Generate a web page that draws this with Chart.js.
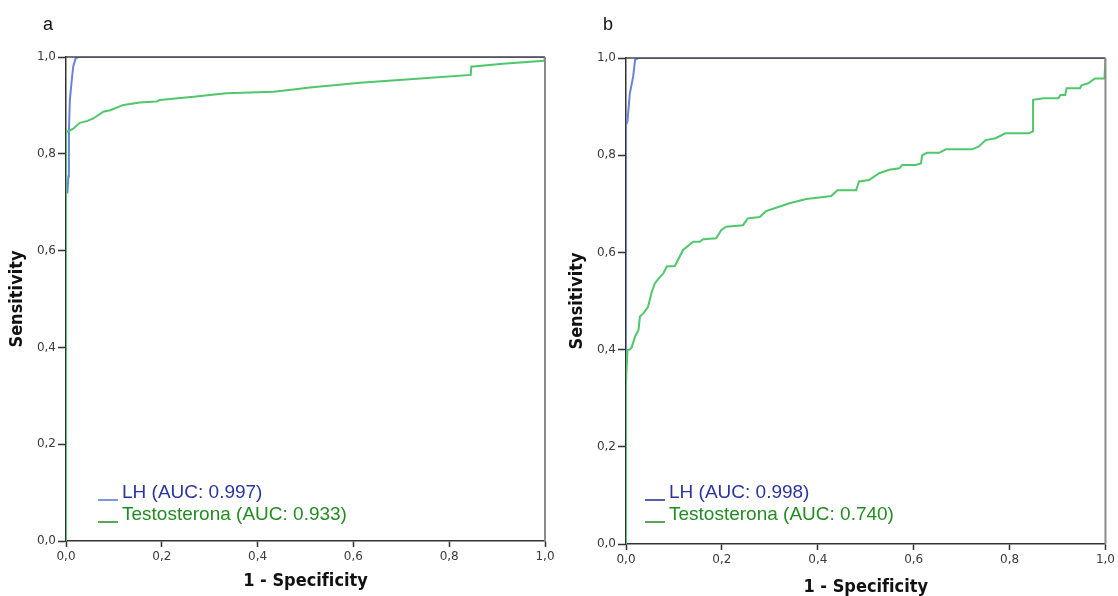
<!DOCTYPE html>
<html lang="es">
<head>
<meta charset="UTF-8">
<title>Curvas ROC</title>
<script src="https://cdn.jsdelivr.net/npm/chart.js@4.4.1/dist/chart.umd.min.js"></script>
<style>
    body { margin: 0; background: #fff; }
    #wrap { position: relative; width: 1118px; height: 596px; overflow: hidden; }
    #panelA { position: absolute; left: 0; top: 0; }
    #panelB { position: absolute; left: 560px; top: 0; }
</style>
</head>
<body>
<div id="wrap">
    <canvas id="panelA" width="560" height="596"></canvas>
    <canvas id="panelB" width="558" height="596"></canvas>
</div>
<script>
// Etiquetas de los ejes
const tickLabels = ['0,0', '0,2', '0,4', '0,6', '0,8', '1,0'];

// Panel a: LH
const lhA_fpr = [0, 0, 0.003, 0.005, 0.006, 0.008, 0.012, 0.015, 0.020, 0.026, 1];
const lhA_tpr = [0, 0.72, 0.72, 0.753, 0.843, 0.911, 0.952, 0.98, 0.997, 1, 1];

// Panel a: Testosterona
const testoA_fpr = [0, 0, 0.003, 0.015, 0.029, 0.045, 0.057, 0.078, 0.092, 0.12, 0.154, 0.189, 0.196,
    0.266, 0.335, 0.433, 0.475, 0.509, 0.614, 0.733, 0.845, 0.846, 0.912, 0.998, 1];
const testoA_tpr = [0, 0.844, 0.846, 0.852, 0.864, 0.868, 0.873, 0.887, 0.890, 0.901, 0.906, 0.908, 0.911,
    0.918, 0.925, 0.928, 0.933, 0.937, 0.947, 0.955, 0.963, 0.980, 0.986, 0.992, 1];

// Panel b: LH
const lhB_fpr = [0, 0, 0.003, 0.008, 0.015, 0.019, 0.026, 1];
const lhB_tpr = [0, 0.862, 0.87, 0.927, 0.962, 0.996, 1, 1];

// Panel b: Testosterona
const testoB_fpr = [0, 0, 0.003, 0.008, 0.012, 0.019, 0.026, 0.029, 0.036, 0.046, 0.053, 0.06, 0.067,
    0.078, 0.085, 0.102, 0.119, 0.14, 0.154, 0.161, 0.188, 0.199, 0.209, 0.244, 0.254, 0.279, 0.292,
    0.313, 0.341, 0.376, 0.403, 0.428, 0.441, 0.48, 0.486, 0.507, 0.528, 0.549, 0.57, 0.576, 0.604,
    0.615, 0.618, 0.628, 0.653, 0.667, 0.722, 0.736, 0.75, 0.771, 0.791, 0.84, 0.849, 0.849, 0.871,
    0.902, 0.906, 0.916, 0.919, 0.947, 0.95, 0.964, 0.978, 0.998, 1];
const testoB_tpr = [0, 0.331, 0.399, 0.40, 0.405, 0.427, 0.44, 0.468, 0.474, 0.488, 0.516, 0.536, 0.545,
    0.557, 0.571, 0.572, 0.605, 0.622, 0.622, 0.627, 0.629, 0.646, 0.653, 0.656, 0.67, 0.673, 0.685,
    0.692, 0.701, 0.710, 0.713, 0.716, 0.728, 0.728, 0.746, 0.749, 0.763, 0.77, 0.773, 0.78, 0.78,
    0.783, 0.80, 0.805, 0.805, 0.812, 0.812, 0.818, 0.831, 0.835, 0.845, 0.845, 0.849, 0.914, 0.917,
    0.917, 0.924, 0.924, 0.938, 0.938, 0.944, 0.948, 0.958, 0.958, 1.0];

const aucA = ['LH (AUC: 0.997)', 'Testosterona (AUC: 0.933)'];
const aucB = ['LH (AUC: 0.998)', 'Testosterona (AUC: 0.740)'];

const TITLE_FONT = '"DejaVu Sans Condensed", "DejaVu Sans", sans-serif';
const TICK_FONT = '"DejaVu Sans", Verdana, sans-serif';
const TEXT_FONT = '"Liberation Sans", Arial, sans-serif';

function puntos(xs, ys) {
    return xs.map((x, i) => ({ x: x, y: ys[i] }));
}

// Marco, letra del panel y leyenda
function decoracion(letra, textos, lhUnderline) {
    return {
        id: 'decoracion' + letra,
        afterDraw(chart) {
            const ctx = chart.ctx;
            const a = chart.chartArea;
            ctx.save();
            ctx.lineWidth = 1.5;
            ctx.strokeStyle = '#444';
            ctx.beginPath();
            ctx.moveTo(a.left, a.top);
            ctx.lineTo(a.right, a.top);
            ctx.stroke();
            ctx.strokeStyle = '#8a8a8a';
            ctx.lineWidth = 2;
            ctx.beginPath();
            ctx.moveTo(a.right, a.top);
            ctx.lineTo(a.right, a.bottom);
            ctx.stroke();

            ctx.fillStyle = '#111';
            ctx.font = '18px ' + TEXT_FONT;
            ctx.textBaseline = 'alphabetic';
            ctx.fillText(letra, 43, 30);

            ctx.font = '19px ' + TEXT_FONT;
            const x0 = a.left + (letra === 'a' ? 32 : 19);
            const filas = [
                { y: 498, color: '#2a35a0', linea: lhUnderline },
                { y: 520, color: '#228b22', linea: '#228b22' }
            ];
            filas.forEach((f, i) => {
                ctx.strokeStyle = f.linea;
                ctx.lineWidth = 1.5;
                ctx.beginPath();
                ctx.moveTo(x0, f.y + 2);
                ctx.lineTo(x0 + 20, f.y + 2);
                ctx.stroke();
                ctx.fillStyle = f.color;
                ctx.fillText(textos[i], x0 + 24, f.y);
            });
            ctx.restore();
        }
    };
}

function crearPanel(id, letra, lh, testo, textos, lhUnderline, pad, alturaX, tituloPadX) {
    const ctx = document.getElementById(id).getContext('2d');
    return new Chart(ctx, {
        type: 'scatter',
        data: {
            datasets: [
                {
                    label: 'LH',
                    data: lh,
                    showLine: true,
                    borderColor: '#6a82da',
                    borderWidth: 2,
                    pointRadius: 0,
                    tension: 0,
                    order: 1
                },
                {
                    label: 'Testosterona',
                    data: testo,
                    showLine: true,
                    borderColor: '#4fc76a',
                    borderWidth: 2,
                    pointRadius: 0,
                    tension: 0,
                    order: 0
                }
            ]
        },
        options: {
            responsive: false,
            animation: false,
            layout: { padding: pad },
            plugins: {
                legend: { display: false },
                tooltip: { enabled: false }
            },
            scales: {
                x: {
                    type: 'linear',
                    min: 0,
                    max: 1,
                    afterFit: (s) => { s.height = alturaX; },
                    ticks: {
                        stepSize: 0.2,
                        padding: 3,
                        color: '#3a3a3a',
                        font: { family: TICK_FONT, size: 12 },
                        callback: (v, i) => tickLabels[i]
                    },
                    grid: {
                        drawOnChartArea: false,
                        drawTicks: true,
                        tickLength: 6,
                        tickColor: '#333',
                        tickWidth: 1.5
                    },
                    border: { display: true, color: '#333', width: 1.5 },
                    title: {
                        display: true,
                        text: '1 - Specificity',
                        color: '#111',
                        padding: { top: 0, bottom: tituloPadX },
                        font: { family: TITLE_FONT, size: 18, weight: 'bold' }
                    }
                },
                y: {
                    type: 'linear',
                    min: 0,
                    max: 1,
                    afterFit: (s) => { s.width = 66; },
                    ticks: {
                        stepSize: 0.2,
                        padding: 2,
                        color: '#3a3a3a',
                        font: { family: TICK_FONT, size: 12 },
                        callback: (v, i) => tickLabels[i]
                    },
                    grid: {
                        drawOnChartArea: false,
                        drawTicks: true,
                        tickLength: 8,
                        tickColor: '#333',
                        tickWidth: 1.5
                    },
                    border: { display: true, color: '#333', width: 1.5 },
                    title: {
                        display: true,
                        text: 'Sensitivity',
                        color: '#111',
                        padding: { top: 7, bottom: 0 },
                        font: { family: TITLE_FONT, size: 18, weight: 'bold' }
                    }
                }
            }
        },
        plugins: [decoracion(letra, textos, lhUnderline)]
    });
}

crearPanel('panelA', 'a', puntos(lhA_fpr, lhA_tpr), puntos(testoA_fpr, testoA_tpr), aucA, '#5a6ed6',
    { left: 0, top: 57, right: 15, bottom: 0 }, 55, 4);
crearPanel('panelB', 'b', puntos(lhB_fpr, lhB_tpr), puntos(testoB_fpr, testoB_tpr), aucB, '#1a2a90',
    { left: 0, top: 58, right: 11, bottom: 0 }, 52, -2);
</script>
</body>
</html>
